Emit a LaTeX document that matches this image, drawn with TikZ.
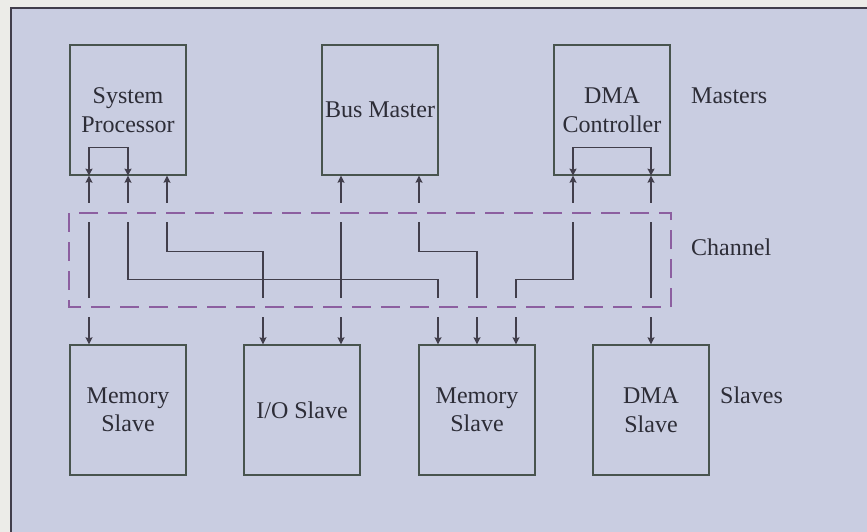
\documentclass[tikz,border=0pt]{standalone}
\usepackage{fontspec}
\setmainfont{Liberation Serif}
\usetikzlibrary{arrows.meta}
\definecolor{bgin}{RGB}{201,205,225}
\definecolor{bgout}{RGB}{236,236,232}
\definecolor{linec}{RGB}{65,62,75}
\definecolor{boxc}{RGB}{72,84,78}
\definecolor{dashc}{RGB}{140,95,160}
\definecolor{txt}{RGB}{45,45,55}
\begin{document}
\begin{tikzpicture}[x=1pt,y=-1pt,
  blk/.style={draw=boxc, line width=1.3pt, minimum width=116pt, minimum height=130pt,
    inner sep=0pt, align=center, text=txt, font=\fontsize{24}{28.5}\selectfont},
  lbl/.style={anchor=base west, inner sep=0pt, text=txt, font=\fontsize{24}{28.5}\selectfont},
  conn/.style={draw=linec, line width=1.3pt,
    {Stealth[length=7pt,width=7pt,inset=1pt]}-{Stealth[length=7pt,width=7pt,inset=1pt]}},
  gapstrip/.style={fill=bgin},
  chan/.style={draw=dashc, line width=1.5pt, dash pattern=on 19pt off 10pt}
]
\useasboundingbox (0,0) rectangle (867,532);
\fill[bgout] (0,0) rectangle (867,532);
\draw[fill=bgin, draw=linec, line width=1.5pt] (11,8) rectangle (880,545);

% masters
\node[blk] (sp) at (128,110) {System\\Processor};
\node[blk] (bm) at (380,110) {Bus Master};
\node[blk] (dmac) at (612,110) {DMA\\Controller};
% slaves
\node[blk] (ms1) at (128,410) {Memory\\Slave};
\node[blk] (io) at (302,410) {I/O Slave};
\node[blk] (ms2) at (477,410) {Memory\\Slave};
\node[blk] (dmas) at (651,410) {DMA\\Slave};

% labels
\node[lbl] (lm) at (691,104) {Masters};
\node[lbl] (lc) at (691,255) {Channel};
\node[lbl] (ls) at (720,403) {Slaves};

% loops inside masters
\draw[conn] ([xshift=-39pt]sp.south) -- ++(0,-28) -| (sp.south);
\draw[conn] ([xshift=-39pt]dmac.south) -- ++(0,-28) -| ([xshift=39pt]dmac.south);

% channel connectors
\draw[conn] ([xshift=-39pt]sp.south) -- ([xshift=-39pt]ms1.north);
\draw[conn] (sp.south) -- ++(0,104) -| ([xshift=-39pt]ms2.north);
\draw[conn] ([xshift=39pt]sp.south) -- ++(0,76) -| ([xshift=-39pt]io.north);
\draw[conn] ([xshift=-39pt]bm.south) -- ([xshift=39pt]io.north);
\draw[conn] ([xshift=39pt]bm.south) -- ++(0,76) -| (ms2.north);
\draw[conn] ([xshift=-39pt]dmac.south) -- ++(0,104) -| ([xshift=39pt]ms2.north);
\draw[conn] ([xshift=39pt]dmac.south) -- (dmas.north);

% gaps where lines cross the channel border
\fill[gapstrip] (80,203) rectangle (660,222);
\fill[gapstrip] (80,298) rectangle (660,317);

% channel
\draw[chan] (69,213) rectangle (671,307);
\end{tikzpicture}
\end{document}
